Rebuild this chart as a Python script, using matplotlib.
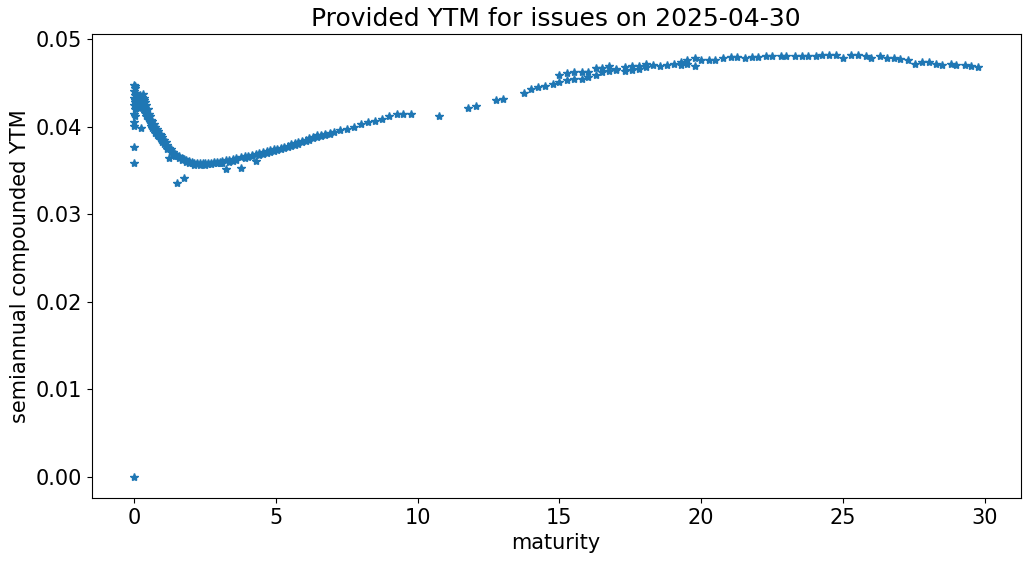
import matplotlib.pyplot as plt
import numpy as np

# short end (bills), maturity in years and semiannual YTM
bill_maturity = [0.00, 0.00, 0.00, 0.00, 0.00, 0.00, 0.00, 0.00, 0.00, 0.00,
                 0.02, 0.02, 0.02, 0.02, 0.04, 0.04, 0.04, 0.06, 0.06, 0.08, 0.08,
                 0.10, 0.10, 0.13, 0.13, 0.16, 0.16, 0.19, 0.19, 0.22, 0.22,
                 0.25, 0.25, 0.28, 0.28, 0.31, 0.31, 0.34, 0.34, 0.37, 0.37,
                 0.40, 0.40, 0.44, 0.44, 0.48, 0.48, 0.52, 0.52, 0.56, 0.56,
                 0.60, 0.60, 0.65, 0.65, 0.70, 0.70, 0.75, 0.75, 0.80, 0.80,
                 0.85, 0.85, 0.90, 0.90, 0.95, 0.95]
bill_ytm = [0.0000, 0.0358, 0.0377, 0.0401, 0.0405, 0.0415, 0.0425, 0.0433, 0.0441, 0.0448,
            0.0444, 0.0436, 0.0428, 0.0420, 0.0446, 0.0430, 0.0412, 0.0438, 0.0426, 0.0432, 0.0421,
            0.0435, 0.0427, 0.0430, 0.0422, 0.0433, 0.0425, 0.0431, 0.0421, 0.0436, 0.0428,
            0.0432, 0.0398, 0.0434, 0.0426, 0.0437, 0.0429, 0.0433, 0.0419, 0.0430, 0.0422,
            0.0428, 0.0416, 0.0425, 0.0412, 0.0420, 0.0410, 0.0415, 0.0408, 0.0412, 0.0405,
            0.0408, 0.0401, 0.0406, 0.0398, 0.0403, 0.0396, 0.0400, 0.0393, 0.0397, 0.0391,
            0.0395, 0.0389, 0.0392, 0.0387, 0.0390, 0.0385]

# notes
note_maturity = [1.00, 1.00, 1.06, 1.06, 1.12, 1.12, 1.18, 1.18, 1.24, 1.24,
                 1.30, 1.30, 1.37, 1.37, 1.44, 1.44, 1.52, 1.52, 1.60, 1.60,
                 1.68, 1.68, 1.76, 1.76, 1.85, 1.85, 1.94, 1.94, 2.03, 2.03,
                 2.12, 2.12, 2.22, 2.22, 2.32, 2.32, 2.42, 2.42, 2.52, 2.52,
                 2.62, 2.62, 2.72, 2.72, 2.82, 2.82, 2.92, 2.92, 3.02, 3.02,
                 3.12, 3.12, 3.24, 3.24, 3.36, 3.36, 3.48, 3.48, 3.60, 3.60,
                 3.77, 3.77, 3.90, 3.90, 4.02, 4.02, 4.15, 4.15, 4.30, 4.30,
                 4.42, 4.42, 4.55, 4.55, 4.68, 4.68, 4.80, 4.80, 4.92, 4.92,
                 5.05, 5.05, 5.18, 5.18, 5.30, 5.30, 5.42, 5.42, 5.55, 5.55,
                 5.68, 5.68, 5.80, 5.80, 5.92, 5.92, 6.05, 6.05, 6.18, 6.18,
                 6.30, 6.30, 6.45, 6.45, 6.60, 6.60, 6.75, 6.75, 6.90, 6.90,
                 7.05, 7.25, 7.50, 7.75, 8.00, 8.25, 8.50, 8.75, 9.00, 9.27,
                 9.50, 9.76]
note_ytm = [0.0388, 0.0383, 0.0385, 0.0380, 0.0382, 0.0378, 0.0379, 0.0375, 0.0376, 0.0364,
            0.0374, 0.0371, 0.0371, 0.0369, 0.0369, 0.0367, 0.0367, 0.0336, 0.0366, 0.0364,
            0.0364, 0.0362, 0.0363, 0.0341, 0.0362, 0.0360, 0.0361, 0.0359, 0.0360, 0.0358,
            0.0359, 0.0356, 0.0359, 0.0357, 0.0358, 0.0356, 0.0359, 0.0357, 0.0358, 0.0356,
            0.0359, 0.0357, 0.0359, 0.0357, 0.0360, 0.0358, 0.0360, 0.0358, 0.0360, 0.0359,
            0.0361, 0.0359, 0.0362, 0.0352, 0.0362, 0.0360, 0.0363, 0.0361, 0.0364, 0.0362,
            0.0365, 0.0353, 0.0366, 0.0364, 0.0367, 0.0365, 0.0368, 0.0366, 0.0369, 0.0361,
            0.0370, 0.0368, 0.0371, 0.0369, 0.0372, 0.0370, 0.0373, 0.0371, 0.0374, 0.0372,
            0.0375, 0.0373, 0.0376, 0.0375, 0.0377, 0.0376, 0.0378, 0.0377, 0.0380, 0.0378,
            0.0381, 0.0379, 0.0382, 0.0380, 0.0384, 0.0382, 0.0385, 0.0384, 0.0387, 0.0385,
            0.0388, 0.0387, 0.0390, 0.0388, 0.0391, 0.0389, 0.0392, 0.0391, 0.0393, 0.0392,
            0.0394, 0.0396, 0.0397, 0.0400, 0.0403, 0.0405, 0.0407, 0.0409, 0.0412, 0.0414,
            0.0414, 0.0415]

# bonds
bond_maturity = [10.75, 11.77, 12.05, 12.76, 13.00, 13.75, 14.00, 14.24, 14.50, 14.77,
                 15.00, 15.00, 15.26, 15.26, 15.50, 15.50, 15.80, 15.80, 16.00, 16.00,
                 16.30, 16.30, 16.50, 16.50, 16.75, 16.75, 17.00, 17.00, 17.30, 17.30,
                 17.55, 17.55, 17.80, 17.80, 18.05, 18.05, 18.30, 18.55, 18.80, 19.05,
                 19.30, 19.30, 19.50, 19.50, 19.80, 19.80, 20.00, 20.27, 20.50, 20.76,
                 21.04, 21.25, 21.53, 21.78, 22.00, 22.27, 22.50, 22.80, 23.00, 23.30,
                 23.55, 23.76, 24.04, 24.26, 24.50, 24.77, 25.00, 25.28, 25.53, 25.80,
                 26.00, 26.30, 26.54, 26.80, 27.00, 27.30, 27.53, 27.80, 28.05, 28.30,
                 28.50, 28.80, 29.00, 29.30, 29.50, 29.78]
bond_ytm = [0.0412, 0.0421, 0.0424, 0.0431, 0.0432, 0.0439, 0.0443, 0.0445, 0.0447, 0.0449,
            0.0451, 0.0459, 0.0453, 0.0461, 0.0454, 0.0462, 0.0455, 0.0462, 0.0457, 0.0463,
            0.0459, 0.0467, 0.0462, 0.0467, 0.0464, 0.0469, 0.0465, 0.0466, 0.0464, 0.0468,
            0.0465, 0.0469, 0.0466, 0.0469, 0.0468, 0.0472, 0.0470, 0.0469, 0.0470, 0.0472,
            0.0474, 0.0470, 0.0476, 0.0472, 0.0478, 0.0469, 0.0476, 0.0476, 0.0476, 0.0479,
            0.0480, 0.0480, 0.0478, 0.0480, 0.0480, 0.0481, 0.0481, 0.0481, 0.0481, 0.0481,
            0.0481, 0.0481, 0.0481, 0.0482, 0.0482, 0.0482, 0.0478, 0.0482, 0.0482, 0.0481,
            0.0479, 0.0481, 0.0479, 0.0478, 0.0477, 0.0476, 0.0472, 0.0474, 0.0474, 0.0472,
            0.0471, 0.0472, 0.0471, 0.0470, 0.0469, 0.0468]

maturity = np.array(bill_maturity + note_maturity + bond_maturity)
ytm = np.array(bill_ytm + note_ytm + bond_ytm)

plt.rcParams.update({'font.size': 15})

fig = plt.figure(figsize=(10.31, 5.64), dpi=100)
ax = fig.add_subplot(111)
fig.subplots_adjust(left=0.089, right=0.990, bottom=0.117, top=0.940)

ax.plot(maturity, ytm, '*', color='tab:blue')

ax.set_title('Provided YTM for issues on 2025-04-30', fontsize=18)
ax.set_xlabel('maturity')
ax.set_ylabel('semiannual compounded YTM')

plt.savefig('out.png')
